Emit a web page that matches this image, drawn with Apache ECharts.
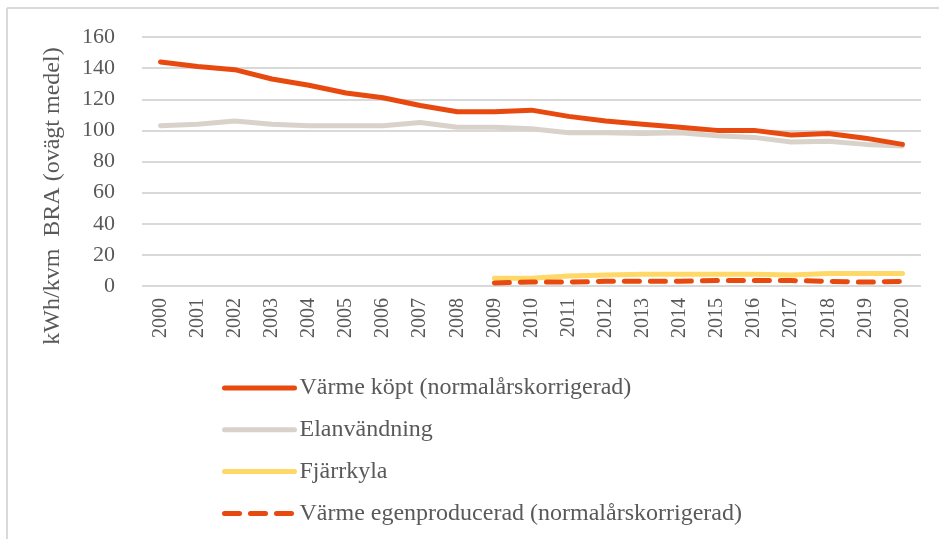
<!DOCTYPE html>
<html>
<head>
<meta charset="utf-8">
<title>Energianvändning</title>
<script src="https://cdn.jsdelivr.net/npm/echarts@6/dist/echarts.min.js"></script>
<style>
  html, body { margin: 0; padding: 0; background: #fff; }
  #chart { width: 939px; height: 539px; }
</style>
</head>
<body>
<div id="chart"></div>
<script>
const years = ['2000', '2001', '2002', '2003', '2004', '2005', '2006', '2007', '2008', '2009', '2010',
  '2011', '2012', '2013', '2014', '2015', '2016', '2017', '2018', '2019', '2020']

const varmeKopt = [144, 141, 139, 133, 129, 124, 121, 116, 112, 112, 113,
  109, 106, 104, 102, 100, 100, 97, 98, 95, 91]
const elanvandning = [103, 104, 106, 104, 103, 103, 103, 105, 102, 102, 101,
  98.5, 98.5, 98, 98.5, 96.5, 95.5, 92.5, 93, 91, 90]
const fjarrkyla = [null, null, null, null, null, null, null, null, null, 5, 5,
  6.5, 7, 7.5, 7.5, 7.5, 7.5, 7, 8, 8, 8]
const varmeEgen = [null, null, null, null, null, null, null, null, null, 2, 2.5,
  2.5, 3, 3, 3, 3.5, 3.5, 3.5, 3, 2.5, 3]

const seriesNames = [
  'Värme köpt (normalårskorrigerad)',
  'Elanvändning',
  'Fjärrkyla',
  'Värme egenproducerad (normalårskorrigerad)'
]
const yTitle = 'kWh/kvm  BRA (ovägt medel)'

const textColor = '#595959'
const font = '"Liberation Serif", "DejaVu Serif", serif'

const chart = echarts.init(document.getElementById('chart'))

chart.setOption({
  animation: false,
  textStyle: { fontFamily: font },
  graphic: [
    // frame round the picture (top and left edge only are visible)
    { type: 'line', shape: { x1: 7, y1: 8, x2: 939, y2: 8 }, style: { stroke: '#d9d9d9', lineWidth: 2 } },
    { type: 'line', shape: { x1: 7, y1: 8, x2: 7, y2: 539 }, style: { stroke: '#d9d9d9', lineWidth: 2 } },
    // y axis title, sits a bit lower than the plot centre
    {
      type: 'text',
      x: 53,
      y: 196,
      rotation: Math.PI / 2,
      style: {
        text: yTitle,
        fill: textColor,
        font: '24px ' + font,
        align: 'center',
        verticalAlign: 'middle'
      }
    }
  ],
  grid: {
    left: 142,
    right: 18,
    top: 37,
    bottom: 253
  },
  legend: {
    orient: 'vertical',
    left: 222,
    top: 376,
    height: 200,
    padding: 0,
    itemWidth: 70,
    itemHeight: 24,
    itemGap: 17.8,
    data: seriesNames,
    itemStyle: { opacity: 0 },
    lineStyle: { width: 5, cap: 'round' },
    textStyle: { color: textColor, fontSize: 24, fontFamily: font }
  },
  xAxis: {
    type: 'category',
    data: years,
    boundaryGap: true,
    axisLine: { show: false },
    axisTick: { show: false },
    axisLabel: {
      rotate: 90,
      color: textColor,
      fontSize: 20,
      fontFamily: font,
      margin: 12,
      interval: 0
    }
  },
  yAxis: {
    type: 'value',
    min: 0,
    max: 160,
    interval: 20,
    axisLine: { show: false },
    axisTick: { show: false },
    axisLabel: { color: textColor, fontSize: 22, fontFamily: font, margin: 27 },
    splitLine: { lineStyle: { color: '#d9d9d9', width: 2 } }
  },
  series: [
    {
      name: seriesNames[0],
      type: 'line',
      data: varmeKopt,
      symbol: 'none',
      z: 4,
      color: '#e8490f',
      lineStyle: { width: 5, cap: 'round', join: 'round' }
    },
    {
      name: seriesNames[1],
      type: 'line',
      data: elanvandning,
      symbol: 'none',
      z: 3,
      color: '#d8d2ca',
      lineStyle: { width: 5, cap: 'round', join: 'round' }
    },
    {
      name: seriesNames[2],
      type: 'line',
      data: fjarrkyla,
      symbol: 'none',
      z: 2,
      color: '#ffd867',
      lineStyle: { width: 5, cap: 'round', join: 'round' }
    },
    {
      name: seriesNames[3],
      type: 'line',
      data: varmeEgen,
      symbol: 'none',
      z: 5,
      color: '#e8490f',
      lineStyle: { width: 5, type: [15, 11], cap: 'round', join: 'round' }
    }
  ]
})
</script>
</body>
</html>
